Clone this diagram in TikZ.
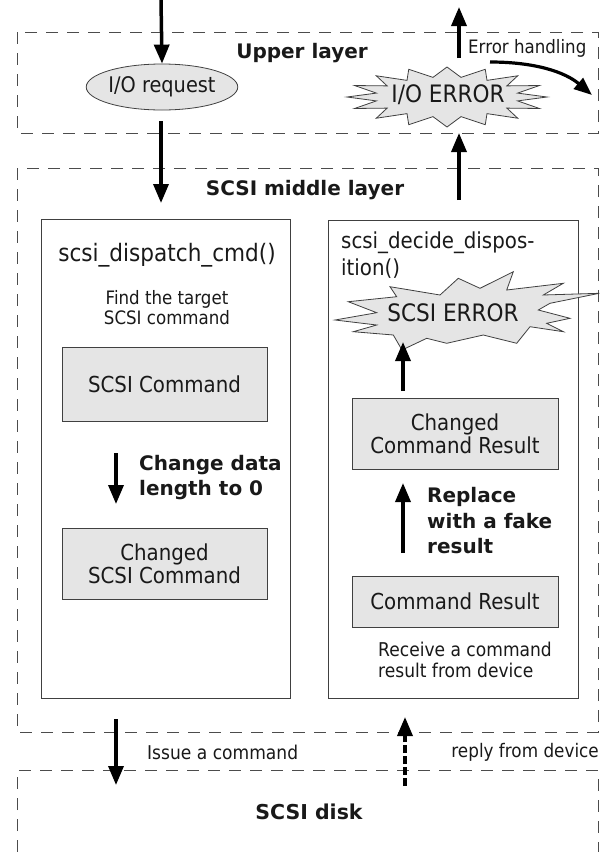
\documentclass[tikz,border=0pt]{standalone}
\usepackage{fontspec}
\setmainfont{DejaVu Sans}
\newfontfamily\cond{DejaVu Sans}[FakeStretch=0.9]
\usetikzlibrary{arrows.meta,shapes.geometric}
\tikzset{
  layer/.style={draw=black!70, line width=0.9pt, dash pattern=on 12pt off 9pt},
  fnbox/.style={draw=black!75, line width=0.9pt, inner sep=0pt},
  graybox/.style={draw=black!75, fill=black!10, line width=0.9pt, align=center, inner sep=0pt,
    font=\cond\fontsize{22}{23}\selectfont, text=black!90},
  burst/.style={draw=black!75, fill=black!10, line width=0.8pt, line join=miter},
  bigarrow/.style={line width=3.5pt, -{Triangle[width=15pt,length=19pt]}},
  lbl/.style={inner sep=0pt, text=black!90},
  boldlbl/.style={inner sep=0pt, text=black!90, font=\bfseries\fontsize{20}{25.5}\selectfont, align=left},
}
\begin{document}
\begin{tikzpicture}[x=1pt,y=-1pt]
\useasboundingbox (0,0) rectangle (604,852);

% layers
\draw[layer] (17,32) rectangle (598,133);
\draw[layer] (17,168) rectangle (598,732);
\draw[layer] (17,852) -- (17,770) -- (598,770) -- (598,852);

\node[lbl, font=\bfseries\fontsize{20}{24}\selectfont] (upper) at (302,53) {Upper layer};
\node[lbl, font=\bfseries\fontsize{20}{24}\selectfont] (middle) at (305,190) {SCSI middle layer};
\node[lbl, font=\bfseries\fontsize{20.5}{24}\selectfont] (disk) at (309,812) {SCSI disk};

% I/O request
\node[ellipse, draw=black!75, fill=black!10, line width=0.8pt, minimum width=118pt, minimum height=46pt,
      inner sep=0pt, font=\cond\fontsize{21.5}{22}\selectfont, text=black!90] (io) at (162,87) {I/O request};

% I/O ERROR burst
\draw[burst] ({447+100*cos(0)},{97+30*sin(0)})
  \foreach \i in {1,...,31}{
    -- ({447+(mod(\i,2)==0 ? 100 : 72)*cos(\i*360/32)},{97+(mod(\i,2)==0 ? 30 : 20)*sin(\i*360/32)})
  } -- cycle;
\node[lbl, font=\cond\fontsize{24}{26}\selectfont] (ioerr) at (448,95) {I/O ERROR};

% top arrows
\coordinate (inA) at (161,0);
\draw[bigarrow] (inA) -- (io.north);
\coordinate (downS) at (161,121);
\coordinate (downE) at (161,203);
\draw[bigarrow] (downS) -- (downE);
\coordinate (upS) at (459,200);
\coordinate (upE) at (459,133);
\draw[bigarrow] (upS) -- (upE);
\coordinate (topS) at (459,58);
\coordinate (topE) at (459,7);
\draw[bigarrow] (topS) -- (topE);

\node[lbl, font=\cond\fontsize{18.5}{20}\selectfont, anchor=west] (eh) at (468,48) {Error handling};
\coordinate (cS) at (490,62);
\coordinate (cE) at (592,95);
\draw[line width=3.2pt, -{Triangle[width=14pt,length=18pt]}] (cS) .. controls (535,62) and (565,72) .. (cE);

% function boxes
\node[fnbox, minimum width=249pt, minimum height=479pt] (dispatch) at (165.5,458.5) {};
\node[fnbox, minimum width=250pt, minimum height=478pt] (decide) at (453,459) {};

\node[lbl, font=\cond\fontsize{24}{25}\selectfont] (dname) at (167,255) {scsi\_dispatch\_cmd()};
\node[lbl, font=\cond\fontsize{18.5}{20}\selectfont, align=center] (find) at (167,308) {Find the target\\SCSI command};
\node[graybox, minimum width=205pt, minimum height=74pt] (cmd) at (164.5,384) {SCSI Command};
\node[graybox, minimum width=205pt, minimum height=71pt] (ccmd) at (164.5,563.5) {Changed\\SCSI Command};
\coordinate (chS) at (116,453);
\coordinate (chE) at (116,504);
\draw[bigarrow] (chS) -- (chE);
\node[boldlbl, anchor=west] (chl) at (139,477.5) {Change data\\length to 0};

\node[lbl, font=\cond\fontsize{22}{26.5}\selectfont, align=left, anchor=north west] (cname) at (341,232) {scsi\_decide\_dispos-\\ition()};

% SCSI ERROR burst
\draw[burst] (335,320) -- (376.7,312.7) -- (348.3,301.7) -- (396.7,296.7) -- (390,286.7) -- (440,295)
  -- (458.3,278.3) -- (480,288.3) -- (513.3,271.7) -- (506.7,290) -- (563.3,283.3) -- (543.3,295)
  -- (599.3,293.3) -- (550,303.3) -- (538.3,310) -- (570,318.3) -- (546.7,323.3) -- (563.3,331.7)
  -- (530,326.7) -- (516.7,343.3) -- (483.3,335) -- (446.7,343.3) -- (426.7,338.3) -- (402,350)
  -- (393.3,335) -- (353.3,331.7) -- (376.7,325) -- cycle;
\node[lbl, font=\cond\fontsize{24}{26}\selectfont] (serr) at (453,313) {SCSI ERROR};

\node[graybox, minimum width=206pt, minimum height=71pt] (ccr) at (455,433.5) {Changed\\Command Result};
\node[graybox, minimum width=206pt, minimum height=51pt] (cr) at (455,601.5) {Command Result};
\coordinate (rS) at (403,553);
\coordinate (rE) at (403,483);
\draw[bigarrow] (rS) -- (rE);
\node[boldlbl, anchor=west] (rl) at (427,521) {Replace\\with a fake\\result};
\coordinate (sS) at (403,391);
\coordinate (sE) at (403,342);
\draw[bigarrow] (sS) -- (sE);
\node[lbl, font=\cond\fontsize{19}{21}\selectfont, align=left, anchor=west] (recv) at (378,659.5) {Receive a command\\result from device};

% bottom arrows
\coordinate (iS) at (116,719);
\coordinate (iE) at (116,785);
\draw[bigarrow] (iS) -- (iE);
\node[lbl, font=\cond\fontsize{19}{20}\selectfont, anchor=west] (issue) at (147,752) {Issue a command};
\coordinate (pS) at (405,786);
\coordinate (pE) at (405,717);
\draw[bigarrow, dash pattern=on 8pt off 3pt] (pS) -- (pE);
\node[lbl, font=\cond\fontsize{18.7}{20}\selectfont, anchor=east] (reply) at (599,752) {reply from device};
\end{tikzpicture}
\end{document}
